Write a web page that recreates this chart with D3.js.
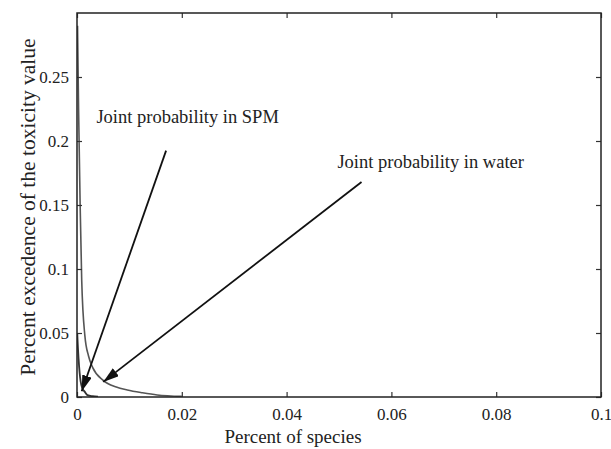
<!DOCTYPE html>
<html>
<head>
<meta charset="utf-8">
<script src="https://cdn.jsdelivr.net/npm/d3@7"></script>
<style>
  body { margin: 0; background: #fff; }
  svg text { font-family: "Liberation Serif", "DejaVu Serif", Times, serif; fill: #222; }
</style>
</head>
<body>
<div id="chart"></div>
<script>
// curves
const waterX = [0.0001, 0.0003, 0.0006, 0.0009, 0.0015, 0.0022, 0.003, 0.005, 0.0075, 0.0096, 0.0125, 0.0153, 0.02];
const waterY = [0.29, 0.225, 0.15, 0.091, 0.048, 0.032, 0.023, 0.013, 0.0078, 0.0055, 0.0033, 0.0016, 0.0005];
const spmX = [0.00005, 0.0001, 0.0003, 0.0005, 0.0007, 0.001, 0.0015, 0.002, 0.003, 0.004];
const spmY = [0.05, 0.045, 0.03, 0.019, 0.012, 0.007, 0.004, 0.0015, 0.0006, 0.0002];

const xTicks = [0, 0.02, 0.04, 0.06, 0.08, 0.1];
const yTicks = [0, 0.05, 0.1, 0.15, 0.2, 0.25];

// annotations: label position and arrow (from -> to) in data units
const annotations = [
    { label: "Joint probability in SPM", tx: 0.0037, ty: 0.214, x1: 0.0170, y1: 0.1925, x2: 0.0009, y2: 0.0045 },
    { label: "Joint probability in water", tx: 0.0497, ty: 0.179, x1: 0.0543, y1: 0.168, x2: 0.005, y2: 0.0118 }
];

const serif = "'Liberation Serif', 'DejaVu Serif', Times, serif";
const width = 611, height = 449;
const margin = { top: 13, left: 77 };
const plotW = 601 - margin.left;
const plotH = 397 - margin.top;

const svg = d3.select("#chart").append("svg")
    .attr("width", width)
    .attr("height", height);

const defs = svg.append("defs");
defs.append("marker")
    .attr("id", "arrow")
    .attr("viewBox", "0 0 16 10")
    .attr("refX", 16)
    .attr("refY", 5)
    .attr("markerWidth", 16)
    .attr("markerHeight", 10)
    .attr("markerUnits", "userSpaceOnUse")
    .attr("orient", "auto")
    .append("path")
    .attr("d", "M0,0 L16,5 L0,10 Z")
    .attr("fill", "#111");

defs.append("clipPath").attr("id", "clip")
    .append("rect")
    .attr("width", plotW)
    .attr("height", plotH);

const g = svg.append("g")
    .attr("transform", "translate(" + margin.left + "," + margin.top + ")");

const x = d3.scaleLinear().domain([0, 0.1]).range([0, plotW]);
const y = d3.scaleLinear().domain([0, 0.3]).range([plotH, 0]);

// curves
const line = d3.line()
    .x(function(d) { return x(d[0]); })
    .y(function(d) { return y(d[1]); })
    .curve(d3.curveMonotoneX);

g.append("path")
    .datum(d3.zip(waterX, waterY))
    .attr("clip-path", "url(#clip)")
    .attr("fill", "none")
    .attr("stroke", "#555")
    .attr("stroke-width", 1.6)
    .attr("d", line);

g.append("path")
    .datum(d3.zip(spmX, spmY))
    .attr("clip-path", "url(#clip)")
    .attr("fill", "none")
    .attr("stroke", "#333")
    .attr("stroke-width", 1.8)
    .attr("d", line);

// axes with inward ticks on all four sides
const fmt = function(d) { return d === 0 ? "0" : String(+d.toFixed(3)); };

const xAxis = g.append("g")
    .attr("transform", "translate(0," + plotH + ")")
    .call(d3.axisBottom(x).tickValues(xTicks).tickSizeInner(-5).tickSizeOuter(0).tickPadding(11).tickFormat(fmt));
const xTop = g.append("g")
    .call(d3.axisTop(x).tickValues(xTicks).tickSizeInner(-5).tickSizeOuter(0).tickFormat(""));
const yAxis = g.append("g")
    .call(d3.axisLeft(y).tickValues(yTicks).tickSizeInner(-5).tickSizeOuter(0).tickPadding(8).tickFormat(fmt));
const yRight = g.append("g")
    .attr("transform", "translate(" + plotW + ",0)")
    .call(d3.axisRight(y).tickValues(yTicks).tickSizeInner(-5).tickSizeOuter(0).tickFormat(""));

[xAxis, xTop, yAxis, yRight].forEach(function(a) {
    a.attr("font-family", serif).attr("font-size", 17);
    a.select(".domain").remove();
    a.selectAll(".tick line").attr("stroke", "#333").attr("stroke-width", 1.2);
    a.selectAll(".tick text").attr("fill", "#333");
});

g.append("rect")
    .attr("width", plotW)
    .attr("height", plotH)
    .attr("fill", "none")
    .attr("stroke", "#222")
    .attr("stroke-width", 1.5);

// annotations
annotations.forEach(function(a) {
    g.append("line")
        .attr("x1", x(a.x1)).attr("y1", y(a.y1))
        .attr("x2", x(a.x2)).attr("y2", y(a.y2))
        .attr("stroke", "#111")
        .attr("stroke-width", 1.8)
        .attr("marker-end", "url(#arrow)");

    g.append("text")
        .attr("x", x(a.tx))
        .attr("y", y(a.ty))
        .attr("font-family", serif)
        .attr("font-size", 18.5)
        .text(a.label);
});

// axis titles
svg.append("text")
    .attr("x", 293)
    .attr("y", 443)
    .attr("text-anchor", "middle")
    .attr("font-family", serif)
    .attr("font-size", 19)
    .text("Percent of species");

svg.append("text")
    .attr("transform", "translate(35,207) rotate(-90)")
    .attr("text-anchor", "middle")
    .attr("font-family", serif)
    .attr("font-size", 21.5)
    .text("Percent excedence of the toxicity value");
</script>
</body>
</html>
